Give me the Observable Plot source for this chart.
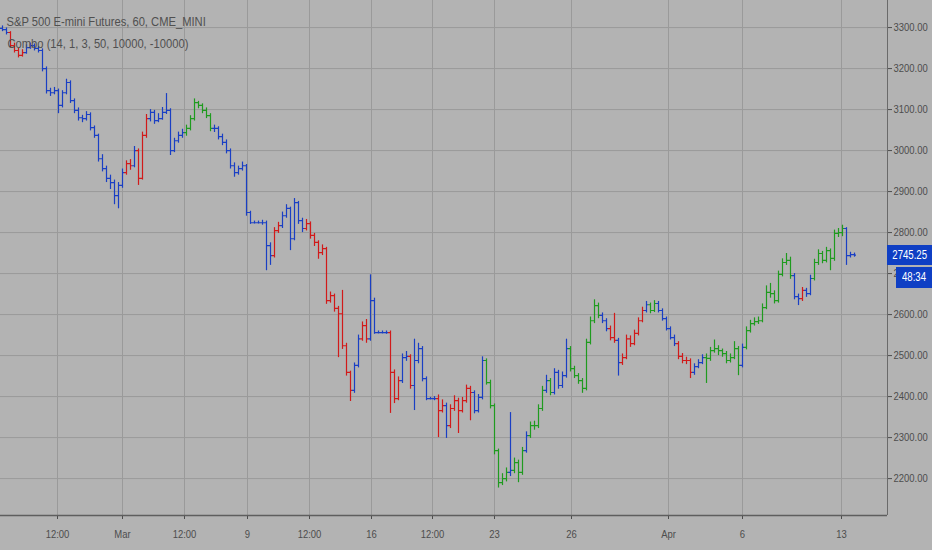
<!DOCTYPE html>
<html>
<head>
<meta charset="utf-8">
<script src="https://cdn.jsdelivr.net/npm/d3@7"></script>
<script src="https://cdn.jsdelivr.net/npm/@observablehq/plot@0.6"></script>
<style>
  body { margin: 0; background: #b3b3b3; }
  #wrap { position: relative; width: 932px; height: 550px; overflow: hidden; }
  .tag { position: absolute; color: #fff; background: #0f3fc4; font: 12px "Liberation Sans", Arial, sans-serif; text-align: center; }
  .tag span { display: inline-block; transform: scaleX(0.8); }
</style>
</head>
<body>
<div id="wrap"></div>
<script>
// S&P 500 E-mini, 60 min bars (one bar every ~4 px)
const firstOpen = 3298;
const close = [
  3295,3288,3256,3244,3232,3239,3251,3256,3249,3244,
  3200,3146,3141,3146,3110,3141,3166,3122,3098,3080,
  3078,3088,3056,3037,2980,2956,2932,2922,2890,2915,
  2946,2968,2963,3000,2932,3037,3078,3093,3073,3078,
  3093,3098,3000,3024,3037,3044,3054,3078,3117,3110,
  3098,3085,3054,3054,3034,3020,3000,2963,2946,2956,
  2963,2849,2824,2824,2824,2824,2768,2744,2805,2817,
  2841,2859,2785,2873,2829,2810,2822,2793,2776,2751,
  2761,2634,2646,2615,2602,2524,2459,2415,2476,2541,
  2573,2541,2634,2556,2556,2556,2556,2459,2395,2439,
  2495,2498,2427,2488,2517,2444,2395,2395,2395,2366,
  2378,2329,2371,2390,2366,2390,2420,2410,2366,2398,
  2488,2434,2378,2268,2190,2200,2215,2220,2239,2215,
  2268,2305,2329,2329,2371,2415,2439,2410,2459,2427,
  2451,2517,2468,2451,2439,2420,2532,2585,2622,2598,
  2585,2566,2544,2537,2483,2495,2541,2529,2554,2585,
  2610,2624,2610,2627,2610,2590,2566,2544,2529,2498,
  2488,2488,2459,2473,2483,2495,2493,2512,2517,2512,
  2505,2488,2495,2517,2476,2520,2561,2578,2583,2585,
  2617,2654,2651,2634,2698,2727,2732,2695,2644,2639,
  2659,2651,2688,2727,2749,2732,2756,2737,2798,2800,
  2810,2744,2746,2745.25
];
const high = [
  3304,3299,3290,3262,3249,3246,3258,3262,3260,3254,
  3248,3204,3152,3154,3150,3146,3174,3170,3126,3104,
  3086,3095,3092,3060,3040,2990,2962,2940,2928,2922,
  2955,2975,2978,3010,3004,3045,3088,3100,3098,3090,
  3105,3139,3102,3030,3045,3052,3062,3085,3126,3120,
  3114,3104,3090,3062,3058,3040,3026,3004,2970,2962,
  2972,2966,2852,2828,2828,2830,2828,2775,2812,2825,
  2850,2868,2862,2883,2876,2835,2832,2826,2798,2780,
  2770,2764,2655,2650,2620,2659,2530,2462,2482,2550,
  2582,2588,2697,2640,2560,2560,2560,2560,2465,2448,
  2504,2510,2502,2540,2530,2522,2448,2398,2400,2404,
  2392,2384,2380,2402,2396,2398,2428,2425,2414,2405,
  2497,2492,2440,2382,2272,2212,2226,2361,2250,2245,
  2276,2314,2338,2340,2380,2425,2452,2444,2468,2464,
  2460,2540,2522,2474,2456,2444,2540,2594,2636,2628,
  2604,2590,2572,2603,2542,2504,2550,2548,2562,2592,
  2618,2632,2628,2634,2632,2614,2594,2570,2550,2534,
  2505,2496,2492,2480,2490,2502,2504,2520,2538,2524,
  2516,2510,2504,2534,2522,2528,2570,2586,2592,2594,
  2626,2670,2676,2658,2706,2736,2749,2740,2700,2650,
  2666,2664,2696,2735,2758,2754,2764,2760,2806,2810,
  2818,2812,2752,2750
];
const low = [
  3290,3282,3250,3238,3226,3228,3235,3247,3243,3238,
  3192,3138,3132,3136,3090,3104,3136,3115,3090,3072,
  3068,3072,3048,3030,2972,2948,2922,2905,2868,2858,
  2908,2940,2952,2958,2915,2928,3030,3070,3064,3068,
  3074,3088,2988,2995,3018,3030,3035,3048,3072,3102,
  3090,3078,3046,3044,3026,3012,2992,2955,2935,2940,
  2950,2840,2820,2821,2821,2818,2707,2720,2738,2798,
  2810,2835,2756,2780,2820,2800,2804,2784,2766,2735,
  2744,2625,2628,2606,2495,2515,2450,2388,2408,2470,
  2535,2530,2535,2552,2553,2553,2552,2359,2383,2390,
  2432,2486,2418,2366,2480,2436,2390,2392,2390,2300,
  2360,2298,2322,2364,2310,2360,2384,2341,2358,2360,
  2392,2428,2370,2258,2177,2183,2192,2205,2212,2190,
  2208,2262,2298,2318,2322,2364,2408,2402,2404,2418,
  2420,2445,2460,2444,2430,2408,2414,2526,2578,2590,
  2578,2558,2536,2530,2450,2476,2490,2520,2524,2548,
  2580,2604,2602,2605,2604,2584,2560,2538,2522,2490,
  2480,2478,2444,2452,2468,2478,2432,2486,2506,2500,
  2496,2480,2482,2490,2451,2470,2514,2555,2572,2576,
  2580,2612,2640,2626,2628,2692,2720,2686,2636,2622,
  2632,2642,2646,2682,2720,2724,2726,2707,2730,2788,
  2790,2720,2738,2740
];
// indicator state per bar: b = neutral, r = short, g = long
const state = (
  "bb" + "rrrr" + "bbbbbbbbbbbbbbbbbbbbbbbbb" + "rr" + "b" + "rrr" + "bbbbbbbbb" +
  "ggggggg" + "bbbbbbbbbbbbbbb" + "rr" + "bbbbbb" + "rrrrrrrrrrrr" + "bb" + "rr" +
  "bbbbb" + "rrr" + "bb" + "r" + "bbbbbb" + "rr" + "b" + "rrrrrr" + "bbb" + "gggggg" +
  "b" + "ggg" + "b" + "gggg" + "b" + "g" + "bbbb" + "gggggggg" + "bb" + "rr" + "b" +
  "rrrrrr" + "b" + "gg" + "bbbbb" + "rrrr" + "bbb" + "ggggggggg" + "b" + "gggggggggggg" +
  "bb" + "r" + "bb" + "gggggggg" + "bbb"
).split("");

const xTicks = [13.75, 30, 45.5, 61.25, 76.75, 92.25, 107.5, 123, 142.25, 166.5, 185, 209.75];
const xLabels = ["12:00", "Mar", "12:00", "9", "12:00", "16", "12:00", "23", "26", "Apr", "6", "13"];
const yTicks = d3.range(2200, 3301, 100);

const bars = close.map((c, i) => ({
  i, close: c, high: high[i], low: low[i], c: state[i],
  open: i === 0 ? firstOpen : close[i - 1]
}));

const xDomain = [-0.5, 221.25];
const yDomain = [2110, 3366];
const font = '"Liberation Sans", Arial, sans-serif';

const chart = Plot.plot({
  width: 932,
  height: 550,
  marginLeft: 0,
  marginRight: 45,
  marginTop: 0,
  marginBottom: 35,
  style: { background: "#b3b3b3", color: "#4d4d4d", fontFamily: font, fontSize: "11px" },
  x: {
    domain: xDomain, ticks: xTicks, tickSize: 4, tickPadding: 11, label: null,
    tickFormat: d => xLabels[xTicks.indexOf(d)]
  },
  y: {
    domain: yDomain, axis: "right", ticks: yTicks, tickSize: 4, tickPadding: 2, label: null,
    tickFormat: d3.format(".2f")
  },
  color: { domain: ["b", "r", "g"], range: ["#1a3fc4", "#d11a1a", "#1f9b1f"] },
  marks: [
    Plot.ruleY(yTicks, { stroke: "#9a9a9a" }),
    Plot.ruleX(xTicks, { stroke: "#9a9a9a" }),
    Plot.ruleX(bars, { x: "i", y1: "low", y2: "high", stroke: "c", strokeWidth: 1.2 }),
    Plot.ruleY(bars, { y: "open", x1: d => d.i - 0.5, x2: "i", stroke: "c", strokeWidth: 1.2 }),
    Plot.ruleY(bars, { y: "close", x1: "i", x2: d => d.i + 0.5, stroke: "c", strokeWidth: 1.2 }),
    Plot.ruleX([xDomain[1]], { stroke: "#6a6a6a" }),
    Plot.ruleY([yDomain[0]], { stroke: "#5e5e5e", strokeWidth: 1.5 }),
    Plot.text(["S&P 500 E-mini Futures, 60, CME_MINI"], {
      frameAnchor: "top-left", dx: 6, dy: 21, textAnchor: "start", lineAnchor: "middle",
      fill: "#505050", fontSize: 13
    }),
    Plot.text(["Combo (14, 1, 3, 50, 10000, -10000)"], {
      frameAnchor: "top-left", dx: 7, dy: 43, textAnchor: "start", lineAnchor: "middle",
      fill: "#505050", fontSize: 13
    })
  ]
});

const wrap = document.getElementById("wrap");
wrap.append(chart);

// the reference uses a condensed face; squeeze the texts horizontally
chart.querySelectorAll("text").forEach(t => {
  const w = t.getComputedTextLength();
  const k = +t.getAttribute("font-size") >= 13 ? 0.77 : 0.86;
  if (w > 0) {
    t.setAttribute("textLength", w * k);
    t.setAttribute("lengthAdjust", "spacingAndGlyphs");
  }
});

// last price tag and bar countdown on the price axis
const last = close[close.length - 1];
const yLast = chart.scale("y").apply(last);
function addTag(text, left, top, w, h) {
  const el = document.createElement("div");
  el.className = "tag";
  el.innerHTML = "<span></span>";
  el.firstChild.textContent = text;
  Object.assign(el.style, { left: left + "px", width: w + "px", top: top + "px", height: h + "px", lineHeight: h + "px" });
  wrap.append(el);
}
addTag(d3.format(".2f")(last), 887, yLast - 10, 45, 20);
addTag("48:34", 896, yLast + 12, 36, 21);
</script>
</body>
</html>
